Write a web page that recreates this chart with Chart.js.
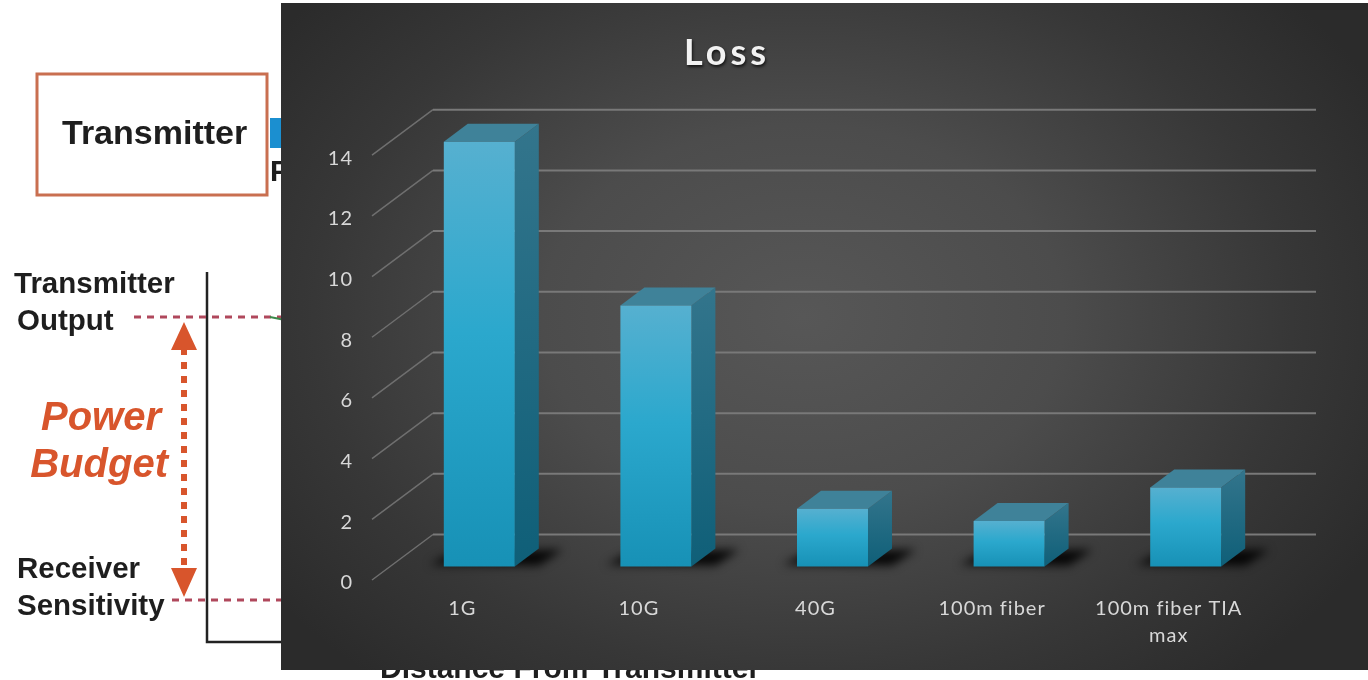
<!DOCTYPE html>
<html>
<head>
<meta charset="utf-8">
<title>Loss</title>
<script src="https://cdn.jsdelivr.net/npm/chart.js@4"></script>
<style>
  html, body { margin: 0; padding: 0; background: #fff; overflow: hidden; }
  #behind { position: absolute; left: 0; top: 0; filter: blur(0.5px); }
  #panel { position: absolute; left: 281px; top: 3px; width: 1087px; height: 667px;
    background: radial-gradient(ellipse 60% 72% at 48% 47%, #575757 0%, #4c4c4c 40%, #373737 75%, #2b2b2b 100%); }
  #wrap { position: absolute; left: 199px; top: 3px; width: 1169px; height: 667px; }
</style>
</head>
<body>

<!-- picture the chart slide sits on top of -->
<svg id="behind" width="1368" height="680" font-family="Liberation Sans" font-weight="bold" fill="#1e1e1e">
  <rect x="37" y="74" width="230" height="121" fill="#fff" stroke="#c96f50" stroke-width="3"/>
  <text x="62" y="144" font-size="34">Transmitter</text>
  <rect x="270" y="118" width="14" height="30" fill="#1b8fd0"/>
  <text x="270" y="181" font-size="29.5">P</text>
  <text x="14" y="293" font-size="29.5">Transmitter</text>
  <text x="17" y="330" font-size="29.5">Output</text>
  <text x="17" y="578" font-size="29.5">Receiver</text>
  <text x="17" y="615" font-size="29.5">Sensitivity</text>
  <g fill="#d8552c" font-style="italic" font-size="40" text-anchor="end">
    <text x="161" y="430">Power</text>
    <text x="168" y="477">Budget</text>
  </g>
  <text x="380" y="678" font-size="30">Distance From Transmitter</text>
  <path d="M207 272V642H290" fill="none" stroke="#222" stroke-width="2.5"/>
  <path d="M134 317H285M172 600H285" fill="none" stroke="#b0485c" stroke-width="3" stroke-dasharray="7 6"/>
  <path d="M270 317L285 320" stroke="#3b8a4a" stroke-width="2"/>
  <path d="M184 348V566" stroke="#d8552c" stroke-width="6" stroke-dasharray="7 7"/>
  <path d="M184 322L197 350H171ZM184 597L197 568H171Z" fill="#d8552c"/>
</svg>

<div id="panel"></div>
<div id="wrap"><canvas id="chart-loss" width="1169" height="667"></canvas></div>

<script>
var categories = ['1G', '10G', '40G', '100m fiber', ['100m fiber TIA', 'max']];
var lossValues = [14, 8.6, 1.9, 1.5, 2.6];
var axisMin = 0;
var axisMax = 14;
var axisStep = 2;
var chartTitle = 'Loss';

// fake 3d, all in pixels, measured from the tick label row
var frontDy = -3;                // tick row -> front edge of floor
var wallDx = 61, wallDy = -48.5; // tick row -> back wall
var barDx = 19, barDy = -16.5;   // tick row -> bar front face
var sideDx = 24, sideDy = -18;   // bar depth

function barFill(context) {
  var chart = context.chart;
  var area = chart.chartArea;
  if (!area || context.raw === undefined) return '#22a0c5';
  var y = chart.scales.y;
  var top = y.getPixelForValue(context.raw), base = y.getPixelForValue(0);
  var g = chart.ctx.createLinearGradient(0, top, 0, base);
  g.addColorStop(0, '#56b0d0');
  g.addColorStop(0.45, '#2ba8cd');
  g.addColorStop(1, '#1791b6');
  return g;
}

var titleStyle = {
  id: 'titleStyle',
  beforeDraw: function (chart) {
    chart.ctx.letterSpacing = '1px';
    var t = chart.titleBlock;
    if (t && !t.wrapped) {
      var draw = t.draw;
      t.draw = function () {
        var c = chart.ctx;
        c.save();
        c.letterSpacing = '4px';
        c.shadowColor = 'rgba(0,0,0,0.7)';
        c.shadowBlur = 3;
        c.shadowOffsetX = 1;
        c.shadowOffsetY = 2;
        draw.call(t);
        c.restore();
      };
      t.wrapped = true;
    }
  }
};

var fake3d = {
  id: 'fake3d',
  beforeDatasetsDraw: function (chart) {
    var c = chart.ctx, area = chart.chartArea, y = chart.scales.y;
    // grid on side wall and back wall
    y.ticks.forEach(function (tick, i) {
      var p = y.getPixelForTick(i);
      c.strokeStyle = '#6f6f6f';
      c.lineWidth = 1.5;
      c.beginPath();
      c.moveTo(area.left, p + frontDy);
      c.lineTo(area.left + wallDx, p + wallDy);
      c.stroke();
      c.strokeStyle = '#797979';
      c.lineWidth = 2;
      c.beginPath();
      c.moveTo(area.left + wallDx, p + wallDy);
      c.lineTo(area.right + wallDx, p + wallDy);
      c.stroke();
    });
    c.save();
    c.translate(barDx, barDy);
    var bars = chart.getDatasetMeta(0).data;
    // floor shadows
    bars.forEach(function (bar) {
      var l = bar.x - bar.width / 2, r = bar.x + bar.width / 2, b = bar.base;
      c.save();
      c.filter = 'blur(5px)';
      c.fillStyle = 'rgba(0,0,0,0.9)';
      c.beginPath();
      c.moveTo(l - 14, b - 2);
      c.lineTo(l + 10, b - 14);
      c.lineTo(r + sideDx + 24, b + sideDy + 1);
      c.lineTo(r + 24, b - 1);
      c.closePath();
      c.fill();
      c.restore();
    });
    // side and top faces
    bars.forEach(function (bar) {
      var l = bar.x - bar.width / 2, r = bar.x + bar.width / 2, t = bar.y, b = bar.base;
      var g = c.createLinearGradient(0, t + sideDy, 0, b);
      g.addColorStop(0, '#33758c');
      g.addColorStop(1, '#0f5f78');
      c.fillStyle = g;
      c.beginPath();
      c.moveTo(r, t);
      c.lineTo(r + sideDx, t + sideDy);
      c.lineTo(r + sideDx, b + sideDy);
      c.lineTo(r, b);
      c.closePath();
      c.fill();
      c.fillStyle = '#3f8299';
      c.beginPath();
      c.moveTo(l, t);
      c.lineTo(l + sideDx, t + sideDy);
      c.lineTo(r + sideDx, t + sideDy);
      c.lineTo(r, t);
      c.closePath();
      c.fill();
    });
    // front faces are the real bars, still inside the translate above
  },
  afterDatasetsDraw: function (chart) {
    chart.ctx.restore();
  }
};

var ctx = document.getElementById('chart-loss');
var chart = new Chart(ctx, {
  type: 'bar',
  data: {
    labels: categories,
    datasets: [{
      label: chartTitle,
      data: lossValues,
      backgroundColor: barFill,
      borderWidth: 0,
      clip: false,
      categoryPercentage: 1,
      barPercentage: 0.402
    }]
  },
  options: {
    responsive: false,
    animation: false,
    layout: { padding: { right: 113 } },
    plugins: {
      legend: { display: false },
      tooltip: { enabled: false },
      title: {
        display: true,
        text: chartTitle,
        color: '#f2f2f2',
        font: { family: 'Lato', size: 36, weight: 'bold', lineHeight: 1.2 },
        padding: { top: 29, bottom: 83 }
      }
    },
    scales: {
      x: {
        grid: { display: false },
        border: { display: false },
        afterFit: function (scale) { scale.height = 87; },
        ticks: {
          color: '#d8d8d8',
          padding: 4,
          labelOffset: 2,
          maxRotation: 0,
          font: { family: 'Lato', size: 20, lineHeight: 1.35 }
        }
      },
      y: {
        min: axisMin,
        max: axisMax,
        grid: { display: false },
        border: { display: false },
        afterFit: function (scale) { scale.width = 173; },
        ticks: {
          stepSize: axisStep,
          color: '#d8d8d8',
          padding: 11,
          font: { family: 'Lato', size: 20 }
        }
      }
    }
  },
  plugins: [titleStyle, fake3d]
});
</script>
</body>
</html>
